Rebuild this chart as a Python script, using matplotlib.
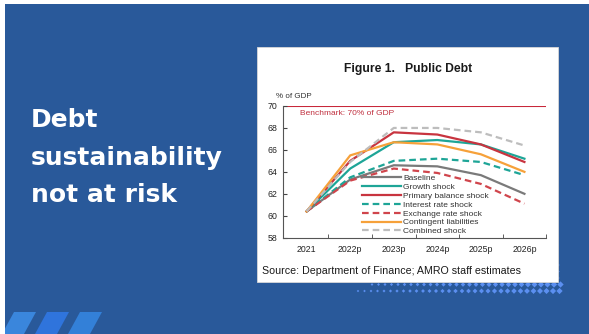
import numpy as np
import matplotlib
matplotlib.use('Agg')
import matplotlib.pyplot as plt
from matplotlib.patches import Rectangle, Polygon

# 数据
years = ['2021', '2022p', '2023p', '2024p', '2025p', '2026p']
baseline = [60.4, 63.3, 64.6, 64.5, 63.7, 62.0]
growth = [60.4, 64.3, 66.7, 66.9, 66.5, 65.2]
primary = [60.4, 65.0, 67.6, 67.4, 66.5, 64.9]
interest = [60.4, 63.5, 65.0, 65.2, 64.9, 63.7]
exchange = [60.4, 63.2, 64.3, 63.9, 62.9, 61.1]
contingent = [60.4, 65.5, 66.7, 66.5, 65.6, 64.0]
combined = [60.4, 64.9, 68.0, 68.0, 67.6, 66.4]
benchmark = 70

W, H = 589, 334
BG = '#29599a'

fig = plt.figure(figsize=(W / 100, H / 100), dpi=100)
fig.patch.set_facecolor('white')

# 背景层（像素坐标）
bg = fig.add_axes([0, 0, 1, 1])
bg.set_xlim(0, W)
bg.set_ylim(H, 0)
bg.axis('off')
bg.add_patch(Rectangle((5, 4), W - 5, H - 4, facecolor=BG, edgecolor='none'))

# 左下角斜条纹
for i, c in enumerate(['#3a86dc', '#2f74dc', '#3380d8']):
    x0 = 2 + i * 33
    bg.add_patch(Polygon([(x0, 334), (x0 + 22, 334), (x0 + 34, 312), (x0 + 12, 312)],
                         closed=True, facecolor=c, edgecolor='none'))
bg.add_patch(Rectangle((0, 300), 5, 34, facecolor='white', edgecolor='none', zorder=3))

# 右下角点阵
rows_y = [265, 271.5, 278, 284.5, 291]
for r, yy in enumerate(rows_y):
    x_start = 358 if r == 4 else (372 if r == 3 else 420)
    xs = np.arange(x_start, 563, 6.5)
    sizes = 1.5 + 9 * ((xs - 350) / 212) ** 1.3
    bg.scatter(xs, np.full_like(xs, yy), s=sizes, marker='D', color='#5b8ff0',
               edgecolors='none')

# 白色图表面板
bg.add_patch(Rectangle((257, 47), 301, 235, facecolor='white', edgecolor='#d8d8d8',
                       lw=0.6, zorder=4))

# 左侧标题
for txt, yy in [('Debt', 127), ('sustainability', 165), ('not at risk', 202)]:
    bg.text(31, yy, txt, color='white', fontsize=18, fontweight='bold',
            family='DejaVu Sans', va='baseline', ha='left')

bg.text(408, 69, 'Figure 1.   Public Debt', fontsize=8.7, fontweight='bold',
        family='Liberation Sans', ha='center', va='center', color='#1a1a1a', zorder=5)
bg.text(262, 271, 'Source: Department of Finance; AMRO staff estimates', fontsize=7.7,
        family='Liberation Sans', ha='left', va='center', color='#1a1a1a', zorder=5)
bg.text(276, 96, '% of GDP', fontsize=5.8, family='Liberation Sans', ha='left',
        va='center', color='#333333', zorder=5)

# 图表
ax = fig.add_axes([282.7 / W, 1 - 237.7 / H, 263.5 / W, 131.7 / H])
ax.set_zorder(6)
ax.patch.set_alpha(0)
x = np.arange(len(years))

ax.axhline(benchmark, color='#c8283a', lw=1.5, zorder=1)
ax.text(-0.15, 69.35, 'Benchmark: 70% of GDP', color='#c0303f', fontsize=6,
        family='Liberation Sans', va='center', ha='left')

lw = 1.6
ax.plot(x, baseline, color='#7a7a7a', lw=lw, label='Baseline')
ax.plot(x, growth, color='#1ea597', lw=lw, label='Growth shock')
ax.plot(x, primary, color='#c8343f', lw=lw, label='Primary balance shock')
ax.plot(x, interest, color='#1ea597', lw=lw, ls=(0, (3, 1.8)), label='Interest rate shock')
ax.plot(x, exchange, color='#d0454c', lw=lw, ls=(0, (3, 1.8)), label='Exchange rate shock')
ax.plot(x, contingent, color='#f6a13a', lw=lw, label='Contingent liabilities')
ax.plot(x, combined, color='#bdbdbd', lw=lw, ls=(0, (3, 1.8)), label='Combined shock')

ax.set_xlim(-0.55, 5.48)
ax.set_ylim(58, 70)
ax.set_yticks(np.arange(58, 71, 2))
ax.set_xticks(x)
ax.set_xticklabels(years)
ax.set_xticks(np.arange(0.5, 5.6, 1), minor=True)
ax.tick_params(axis='x', which='major', length=0, labelsize=6.3, pad=5, labelcolor='#222222')
ax.tick_params(axis='x', which='minor', direction='in', length=3, color='#444444')
ax.tick_params(axis='y', direction='in', length=3, labelsize=6.3, pad=4,
               labelcolor='#222222', color='#444444')
for lab in ax.get_xticklabels() + ax.get_yticklabels():
    lab.set_family('Liberation Sans')
for s in ['top', 'right']:
    ax.spines[s].set_visible(False)
for s in ['left', 'bottom']:
    ax.spines[s].set_color('#555555')
    ax.spines[s].set_linewidth(0.8)

leg = ax.legend(loc='upper left', bbox_to_anchor=(0.302, 0.48), frameon=False,
                handlelength=4.6, handletextpad=0.3, labelspacing=0.12,
                borderpad=0, borderaxespad=0, prop={'family': 'Liberation Sans', 'size': 6})
for t in leg.get_texts():
    t.set_color('#333333')

fig.savefig('out.png', dpi=100, facecolor=fig.get_facecolor())
